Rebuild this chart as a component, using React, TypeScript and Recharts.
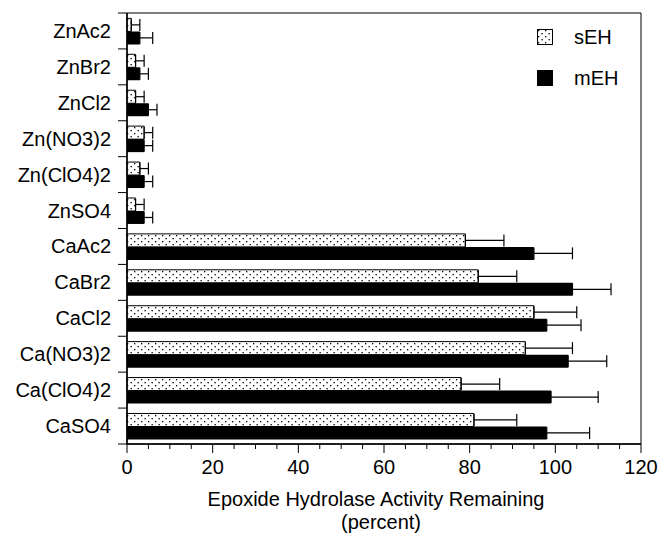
import React from 'react';
import { BarChart, Bar, XAxis, YAxis, ErrorBar, ReferenceArea, Label, Legend } from 'recharts';

const categories = ['ZnAc2', 'ZnBr2', 'ZnCl2', 'Zn(NO3)2', 'Zn(ClO4)2', 'ZnSO4', 'CaAc2', 'CaBr2', 'CaCl2', 'Ca(NO3)2', 'Ca(ClO4)2', 'CaSO4'];
const sEH = [1, 2, 2, 4, 3, 2, 79, 82, 95, 93, 78, 81];
const sEHErr = [2, 2, 2, 2, 2, 2, 9, 9, 10, 11, 9, 10];
const mEH = [3, 3, 5, 4, 4, 4, 95, 104, 98, 103, 99, 98];
const mEHErr = [3, 2, 2, 2, 2, 2, 9, 9, 8, 9, 11, 10];
const xTicks = [0, 5, 10, 15, 20, 25, 30, 35, 40, 45, 50, 55, 60, 65, 70, 75, 80, 85, 90, 95, 100, 105, 110, 115, 120];
const majorStep = 20;
const seriesNames = ['sEH', 'mEH'];
const titleLines = ['Epoxide Hydrolase Activity Remaining', '(percent)'];

const data = categories.map((name, i) => ({
  name,
  sEH: sEH[i],
  sErr: [0, sEHErr[i]],
  mEH: mEH[i],
  mErr: [0, mEHErr[i]],
}));

const W = 658;
const H = 533;
const margin = { top: 13, right: 17, bottom: 59, left: 0 };
const xAxisH = 30;
const yAxisW = 127;
const band = (H - margin.top - margin.bottom - xAxisH) / categories.length;
const FONT = '"Liberation Sans", Arial, Helvetica, sans-serif';
const FS = 20;

const XTick = (props: any) => {
  const { x, y, payload } = props;
  const v = payload.value;
  const major = v % majorStep === 0;
  return (
    <g>
      <line x1={x} x2={x} y1={y} y2={y + (major ? 9 : 5)} stroke="#000" strokeWidth={1} />
      {major && (
        <text x={x} y={y + 23} dy="0.35em" textAnchor="middle" fontFamily={FONT} fontSize={FS} fill="#000">
          {v}
        </text>
      )}
    </g>
  );
};

const YTick = (props: any) => {
  const { x, y, payload, index } = props;
  return (
    <g>
      <line x1={x - 9} x2={x} y1={y - band / 2} y2={y - band / 2} stroke="#000" strokeWidth={1} />
      {index === categories.length - 1 && (
        <line x1={x - 9} x2={x} y1={y + band / 2} y2={y + band / 2} stroke="#000" strokeWidth={1} />
      )}
      <text x={x - 16} y={y} dy="0.35em" textAnchor="end" fontFamily={FONT} fontSize={FS} fill="#000">
        {payload.value}
      </text>
    </g>
  );
};

const TitleLabel = (props: any) => {
  const vb = props.viewBox || {};
  const cx = vb.x + vb.width / 2;
  return (
    <g>
      <text x={cx - 8} y={vb.y + 55} dy="0.35em" textAnchor="middle" fontFamily={FONT} fontSize={FS} fill="#000">
        {titleLines[0]}
      </text>
      <text x={cx - 3} y={vb.y + 78} dy="0.35em" textAnchor="middle" fontFamily={FONT} fontSize={FS} fill="#000">
        {titleLines[1]}
      </text>
    </g>
  );
};

const LegendContent = () => (
  <div style={{ fontFamily: FONT, fontSize: FS, color: '#000' }}>
    {seriesNames.map((n, i) => (
      <div key={n} style={{ display: 'flex', alignItems: 'center', height: 16, marginBottom: i === 0 ? 25 : 0 }}>
        <svg width={16} height={16} style={{ display: 'block' }}>
          <rect x={0.5} y={0.5} width={15} height={15} fill={i === 0 ? 'url(#dots)' : '#000'} stroke="#000" strokeWidth={1} />
        </svg>
        <span style={{ marginLeft: 21 }}>{n}</span>
      </div>
    ))}
  </div>
);

export default function App() {
  return (
    <div style={{ position: 'absolute', left: 0, top: 0, width: W, height: H, background: '#fff' }}>
      <svg width={0} height={0} style={{ position: 'absolute' }}>
        <defs>
          <pattern id="dots" width={7} height={6} patternUnits="userSpaceOnUse">
            <rect x={0} y={0} width={7} height={6} fill="#fff" />
            <rect x={1} y={1} width={1.3} height={1.3} fill="#000" />
            <rect x={4.5} y={4} width={1.3} height={1.3} fill="#000" />
          </pattern>
        </defs>
      </svg>
      <BarChart
        width={W}
        height={H}
        data={data}
        layout="vertical"
        margin={margin}
        barCategoryGap="15%"
        barGap={0}
      >
        <XAxis
          type="number"
          domain={[0, 120]}
          ticks={xTicks}
          interval={0}
          height={xAxisH}
          tickSize={0}
          tickMargin={0}
          tickLine={false}
          axisLine={{ stroke: '#000', strokeWidth: 1.5 }}
          tick={<XTick />}
        >
          <Label content={<TitleLabel />} />
        </XAxis>
        <YAxis
          type="category"
          dataKey="name"
          width={yAxisW}
          interval={0}
          tickSize={0}
          tickMargin={0}
          tickLine={false}
          axisLine={{ stroke: '#000', strokeWidth: 1.5 }}
          tick={<YTick />}
        />
        <ReferenceArea x1={0} x2={120} fill="none" fillOpacity={0} stroke="#000" strokeWidth={1} ifOverflow="visible" />
        <Legend
          layout="vertical"
          align="center"
          verticalAlign="middle"
          content={<LegendContent />}
          wrapperStyle={{ position: 'absolute', left: 537, top: 29, width: 100, height: 60 }}
        />
        <Bar dataKey="sEH" name="sEH" fill="url(#dots)" stroke="#000" strokeWidth={1} isAnimationActive={false}>
          <ErrorBar dataKey="sErr" direction="x" width={6} stroke="#000" strokeWidth={1.2} isAnimationActive={false} />
        </Bar>
        <Bar dataKey="mEH" name="mEH" fill="#000" isAnimationActive={false}>
          <ErrorBar dataKey="mErr" direction="x" width={6} stroke="#000" strokeWidth={1.2} isAnimationActive={false} />
        </Bar>
      </BarChart>
    </div>
  );
}
